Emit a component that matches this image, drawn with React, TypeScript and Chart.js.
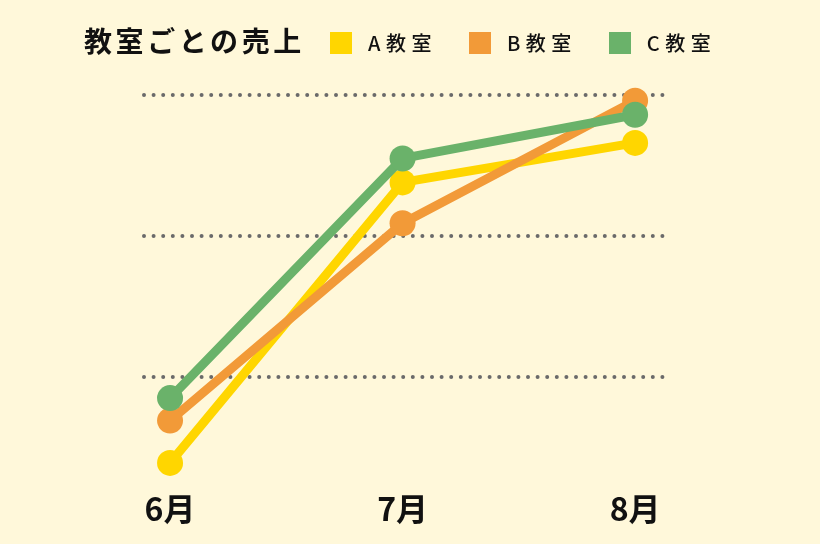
import React, { useEffect, useRef } from "react";
import { Chart, registerables } from "chart.js";

Chart.register(...registerables);

const TITLE = "教室ごとの売上";
const MONTHS = ["6月", "7月", "8月"];
const SERIES_NAMES = ["A教室", "B教室", "C教室"];
const A_VALUES = [39, 238, 266];
const B_VALUES = [69, 209, 296];
const C_VALUES = [85, 255, 286];
const GRID_VALUES = [100, 200, 300];
const COLORS = ["#FFD600", "#F29A38", "#6AB26A"];
const BG = "#FFF8DA";
const FONT = '"Noto Sans CJK JP", "Noto Sans", sans-serif';

const dottedGrid = {
  id: "dottedGrid",
  beforeDatasetsDraw(chart: any) {
    const { ctx, chartArea, scales } = chart;
    const y = scales.y;
    ctx.save();
    ctx.strokeStyle = "#6a6a6a";
    ctx.lineWidth = 4;
    ctx.lineCap = "round";
    ctx.setLineDash([0, 9.6]);
    y.ticks.forEach((t: any) => {
      const py = Math.round(y.getPixelForValue(t.value));
      ctx.beginPath();
      ctx.moveTo(chartArea.left, py);
      ctx.lineTo(chartArea.right, py);
      ctx.stroke();
    });
    ctx.restore();
  },
};

export default function App() {
  const ref = useRef<HTMLCanvasElement>(null);

  useEffect(() => {
    if (!ref.current) return;
    const seriesValues = [A_VALUES, B_VALUES, C_VALUES];
    const chart = new Chart(ref.current, {
      type: "line",
      data: {
        datasets: seriesValues.map((vals, i) => ({
          label: SERIES_NAMES[i],
          data: vals.map((v, j) => ({ x: j, y: v })),
          borderColor: COLORS[i],
          backgroundColor: COLORS[i],
          pointBackgroundColor: COLORS[i],
          pointBorderWidth: 0,
          pointRadius: 13,
          borderWidth: 9,
          tension: 0,
          clip: false as any,
          order: 2 - i,
        })),
      },
      options: {
        animation: false,
        responsive: false,
        events: [],
        layout: { padding: { left: 144, right: 157, top: 95, bottom: 1 } },
        plugins: {
          legend: { display: false },
          title: { display: false },
          tooltip: { enabled: false },
        },
        scales: {
          x: {
            type: "linear",
            min: -0.112,
            max: 2.12,
            afterBuildTicks: (scale: any) => {
              scale.ticks = MONTHS.map((_, i) => ({ value: i }));
            },
            ticks: {
              callback: (v: any) => MONTHS[v as number] ?? "",
              color: "#111",
              font: { family: FONT, size: 32, weight: "bold" },
              padding: 14.5,
              maxRotation: 0,
              autoSkip: false,
            },
            grid: { display: false, drawTicks: false },
            border: { display: false },
          },
          y: {
            display: false,
            min: 30,
            max: 300,
            afterBuildTicks: (scale: any) => {
              scale.ticks = GRID_VALUES.map((v) => ({ value: v }));
            },
          },
        },
      },
      plugins: [dottedGrid],
    });
    return () => chart.destroy();
  }, []);

  return (
    <div
      style={{
        position: "fixed",
        left: 0,
        top: 0,
        width: 820,
        height: 544,
        background: BG,
        fontFamily: FONT,
        color: "#111",
        overflow: "hidden",
      }}
    >
      <canvas
        ref={ref}
        width={820}
        height={544}
        style={{ position: "absolute", left: 0, top: 0, width: 820, height: 544 }}
      />
      <div
        style={{
          position: "absolute",
          left: 84,
          top: 23,
          fontSize: 28,
          fontWeight: 700,
          letterSpacing: 3.6,
          lineHeight: "34px",
          whiteSpace: "nowrap",
        }}
      >
        {TITLE}
      </div>
      <div
        style={{
          position: "absolute",
          left: 330,
          top: 31,
          display: "flex",
          alignItems: "center",
          gap: 32,
          whiteSpace: "nowrap",
        }}
      >
        {SERIES_NAMES.map((name, i) => (
          <div key={name} style={{ display: "flex", alignItems: "center" }}>
            <span
              style={{
                display: "inline-block",
                width: 22,
                height: 22,
                background: COLORS[i],
                marginRight: 16,
              }}
            />
            <span style={{ fontSize: 20, letterSpacing: 5.5, lineHeight: "24px", fontWeight: 500 }}>
              {name}
            </span>
          </div>
        ))}
      </div>
    </div>
  );
}
